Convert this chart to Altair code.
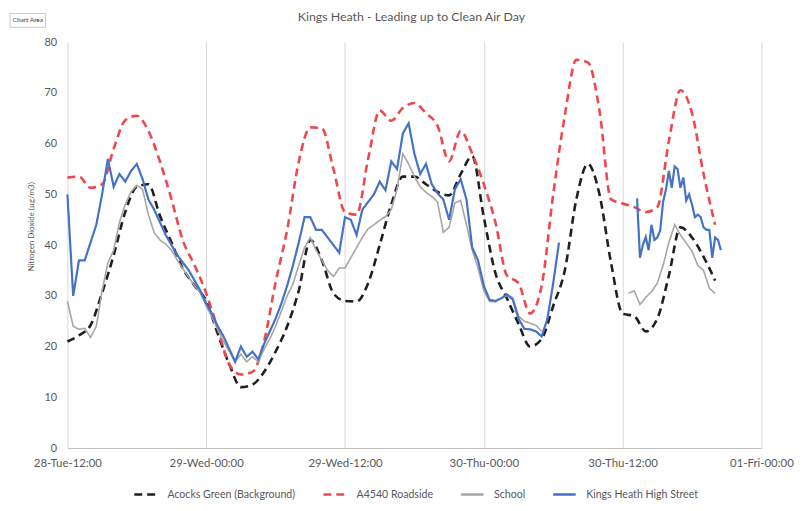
import altair as alt
import pandas as pd

TITLE = "Kings Heath - Leading up to Clean Air Day"
Y_TITLE = "Nitrogen Dioxide (µg/m3)"
TICK_HOURS = [0, 12, 24, 36, 48, 60]
TICK_LABELS = ["28-Tue-12:00", "29-Wed-00:00", "29-Wed-12:00",
               "30-Thu-00:00", "30-Thu-12:00", "01-Fri-00:00"]
SERIES = ["Acocks Green (Background)", "A4540 Roadside", "School",
          "Kings Heath High Street"]
COLORS = ["#1f1f1f", "#f0474c", "#a6a6a6", "#4472c4"]

# hourly values, starting at hour 0 (28-Tue-12:00)
acocks = [21, 22.2, 24.2, 30.6, 38, 46.5, 51.5, 52, 45.8, 40.5, 35.3, 32, 29, 22.5,
          16.5, 12, 12.5, 15, 19, 24, 31, 41, 37, 30.5, 29, 28.9, 32.5, 40, 48, 53.5,
          53.5, 52, 50.5, 49.8, 54, 57.5, 45.5, 34.5, 29.5, 24.5, 20, 21.5, 28, 35,
          49, 56, 50, 36.5, 26.5, 26, 23, 25.5, 34, 43.5, 41.5, 37.7, 33]
roadside = [53.3, 53.5, 51.3, 52, 59, 64.6, 65.5, 62.5, 56.5, 49, 40.8, 36, 30.5,
            23.5, 16.5, 14.5, 15, 21, 32.7, 43, 56.4, 63.2, 63, 55, 46.5, 46, 57,
            66.5, 64.5, 67, 68, 66, 63.5, 56.5, 62.5, 58, 52, 44.5, 34, 32.5, 26.5,
            32, 50, 65.5, 76.5, 76, 66.5, 49, 48.2, 47.5, 46.5, 47.5, 60.5, 70.5,
            66, 54, 44]

# half-hourly values
school_1 = [29, 24, 23.4, 23.6, 21.8, 24, 31, 36.5, 39, 44.5,
            48, 50.5, 51.8, 51, 46, 42.5, 41, 40.2, 39, 37,
            35.3, 33.6, 32, 30.5, 28, 25.8, 23.4, 21, 19, 17,
            18.5, 17, 18, 17, 19.5, 21.5, 24, 27, 30, 32.3,
            36, 39.5, 41.5, 39, 37, 35, 33.8, 35.5, 35.5, 37.5,
            39.5, 41.5, 43.2, 44, 44.9, 45.6, 47, 51, 58, 56,
            53.5, 51.5, 50.4, 49.6, 48.5, 42.5, 43.5, 48.3, 48.8, 44,
            39, 35.5, 31, 28.9, 28.8, 29.5, 30, 29.7, 26, 25,
            24.6, 24.2, 23]
school_2_start = 48.5
school_2 = [30.5, 31, 28.3, 29.7, 30.8, 32.5, 36, 40.5, 44, 42, 40.4, 38.8, 36,
            35, 31.5, 30.5]

kings_1 = [50, 30, 37, 37, 40.5, 44, 50, 57, 51.5, 54,
           52.5, 54.6, 56, 53, 49, 47, 44.5, 42, 40, 38,
           36.5, 35, 33, 31, 28.5, 26.5, 24, 22, 19.5, 17,
           20, 18, 19, 17.5, 20.5, 23, 25.5, 28.5, 32, 36,
           40.5, 45.5, 45.5, 43, 43, 41.5, 40, 38.5, 45.5, 45,
           42, 47, 48.5, 50, 52.5, 50.8, 56.5, 55, 62, 64,
           58, 54, 56, 52, 50.2, 49, 45, 51, 53, 49,
           39.5, 37, 32, 29.2, 29, 29.5, 30.3, 29.3, 25.5, 23.5,
           23.4, 23, 22, 25.5, 32.5, 40.5]
# quarter-hourly values
kings_2_start = 49.25
kings_2 = [49.2, 37.5, 40, 41.6, 39, 44, 41, 41.5, 42.9, 48.5, 51, 54.6, 51.3,
           55.5, 55, 51.3, 53.3, 48.8, 50, 48, 45.5, 46, 45.5, 43.5, 43, 43, 37.5,
           41.5, 41, 39]

rows = []


def add(series, seg, start, step, values):
    for i, v in enumerate(values):
        rows.append({"series": series, "seg": seg, "hour": start + i * step, "value": v})


add(SERIES[0], 1, 0, 1, acocks)
add(SERIES[1], 1, 0, 1, roadside)
add(SERIES[2], 1, 0, 0.5, school_1)
add(SERIES[2], 2, school_2_start, 0.5, school_2)
add(SERIES[3], 1, 0, 0.5, kings_1)
add(SERIES[3], 2, kings_2_start, 0.25, kings_2)
df = pd.DataFrame(rows)

FONT = "Lato"
GREY = "#595959"
W, H = 701, 410

label_expr = "[" + ",".join("'%s'" % t for t in TICK_LABELS) + "][round(datum.value / 12)]"

x = alt.X("hour:Q", scale=alt.Scale(domain=[0, 60], nice=False),
          axis=alt.Axis(values=TICK_HOURS, labelExpr=label_expr, title=None, grid=True,
                        gridColor="#d9d9d9", domainColor="#bfbfbf", ticks=False,
                        labelFlush=False, labelPadding=10, labelFontSize=11.5,
                        labelColor=GREY, labelFont=FONT))
y = alt.Y("value:Q", scale=alt.Scale(domain=[0, 80], nice=False),
          axis=alt.Axis(values=list(range(0, 81, 10)), grid=False, domain=False, ticks=False,
                        title=Y_TITLE, titleFontSize=8, titleFontWeight="normal",
                        titleColor=GREY, titleFont=FONT, labelPadding=11, titlePadding=8,
                        titleY=186, labelFontSize=11, labelColor=GREY, labelFont=FONT))

legend = alt.Legend(title=None, orient="none", legendX=66, legendY=444,
                    direction="horizontal", symbolType="stroke", symbolSize=520,
                    symbolStrokeWidth=2.5, labelFontSize=10.7, labelColor=GREY,
                    labelFont=FONT, columnPadding=22, labelOffset=9)
color = alt.Color("series:N", scale=alt.Scale(domain=SERIES, range=COLORS), legend=legend)
dash = alt.StrokeDash("series:N", scale=alt.Scale(domain=SERIES,
                                                   range=[[8, 5], [8, 5], [1, 0], [1, 0]]),
                      legend=legend)

base = alt.Chart(df)
dashed = base.transform_filter(
    alt.FieldOneOfPredicate(field="series", oneOf=SERIES[:2])
).mark_line(strokeWidth=2.6, interpolate="monotone").encode(
    x=x, y=y, color=color, strokeDash=dash, detail="seg:N")
school = base.transform_filter(
    alt.FieldEqualPredicate(field="series", equal=SERIES[2])
).mark_line(strokeWidth=1.6).encode(x=x, y=y, color=color, strokeDash=dash, detail="seg:N")
kings = base.transform_filter(
    alt.FieldEqualPredicate(field="series", equal=SERIES[3])
).mark_line(strokeWidth=2.2).encode(x=x, y=y, color=color, strokeDash=dash, detail="seg:N")

title = alt.Chart(pd.DataFrame({"t": [TITLE]})).mark_text(
    fontSize=12.5, color=GREY, font=FONT, align="center", baseline="middle"
).encode(x=alt.value(W / 2 - 3), y=alt.value(-25), text="t:N")

tip_box = alt.Chart(pd.DataFrame({"t": ["Chart Area"]})).mark_rect(
    fill="#ffffff", stroke="#c8c8c8", strokeWidth=1
).encode(x=alt.value(-58), x2=alt.value(-22), y=alt.value(-29), y2=alt.value(-15))
tip = alt.Chart(pd.DataFrame({"t": ["Chart Area"]})).mark_text(
    fontSize=6.5, color="#333333", font=FONT, align="center", baseline="middle"
).encode(x=alt.value(-40), y=alt.value(-22), text="t:N")

chart = alt.layer(dashed, school, kings, title, tip_box, tip).properties(
    width=W, height=H,
    autosize=alt.AutoSizeParams(type="none"),
    padding={"left": 60, "top": 32, "right": 41, "bottom": 50},
).configure_view(stroke=None)

chart.save("out.html", embed_options={"renderer": "svg", "actions": False})
